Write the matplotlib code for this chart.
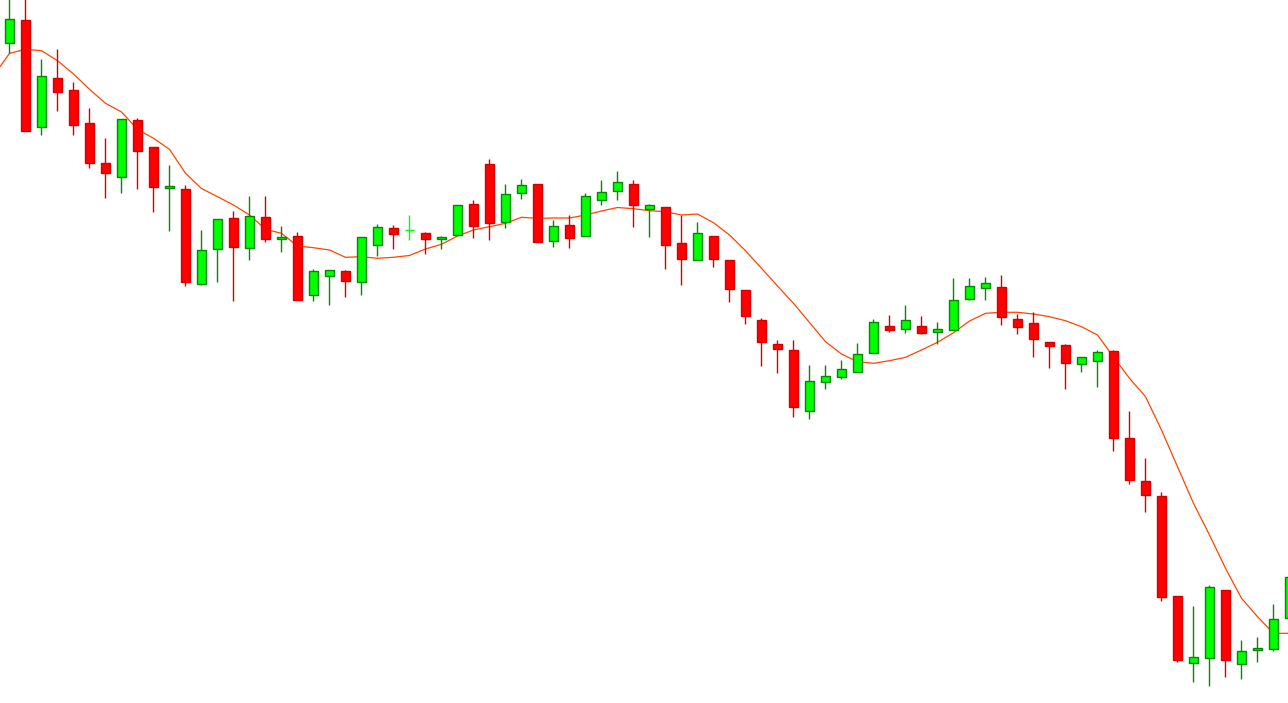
import numpy as np
import matplotlib
matplotlib.use("Agg")
import matplotlib.pyplot as plt
from matplotlib.patches import Rectangle

# OHLC (price units)
opens = [1.09567, 1.09797, 1.08727, 1.09217, 1.09097, 1.08767, 1.08367, 1.08227, 1.08797, 1.08527,
         1.08123, 1.08107, 1.07163, 1.07507, 1.07817, 1.07517, 1.07827, 1.07607, 1.07637, 1.07053,
         1.07243, 1.07287, 1.07183, 1.07553, 1.07717, 1.07697, 1.07667, 1.07613, 1.07647, 1.07957,
         1.08357, 1.07777, 1.08067, 1.08157, 1.07587, 1.07747, 1.07637, 1.07997, 1.08087, 1.08157,
         1.07907, 1.07927, 1.07567, 1.07400, 1.07637, 1.07397, 1.07097, 1.06797, 1.06557, 1.06497,
         1.05887, 1.06177, 1.06227, 1.06277, 1.06467, 1.06737, 1.06707, 1.06737, 1.06677, 1.06697,
         1.07007, 1.07117, 1.07127, 1.06807, 1.06767, 1.06577, 1.06547, 1.06357, 1.06387, 1.06487,
         1.05617, 1.05187, 1.05037, 1.04037, 1.03367, 1.03417, 1.04097, 1.03357, 1.03497, 1.03507,
         1.03817]
highs = [1.10050, 1.10100, 1.09410, 1.09510, 1.09180, 1.08920, 1.08620, 1.08807, 1.08820, 1.08530,
         1.08350, 1.08150, 1.07700, 1.07807, 1.07890, 1.08040, 1.08040, 1.07740, 1.07680, 1.07310,
         1.07300, 1.07300, 1.07627, 1.07760, 1.07750, 1.07850, 1.07680, 1.07640, 1.07947, 1.08000,
         1.08410, 1.08160, 1.08210, 1.08157, 1.07800, 1.07850, 1.08070, 1.08200, 1.08290, 1.08200,
         1.07960, 1.07927, 1.07847, 1.07780, 1.07637, 1.07397, 1.07097, 1.06820, 1.06600, 1.06600,
         1.06350, 1.06350, 1.06400, 1.06570, 1.06807, 1.06850, 1.06947, 1.06840, 1.06777, 1.07220,
         1.07217, 1.07230, 1.07250, 1.06857, 1.06877, 1.06577, 1.06557, 1.06427, 1.06497, 1.06497,
         1.05890, 1.05420, 1.05077, 1.04037, 1.03940, 1.04150, 1.04097, 1.03600, 1.03630, 1.03957,
         1.04230]
lows = [1.09473, 1.08690, 1.08653, 1.08893, 1.08653, 1.08323, 1.08023, 1.08073, 1.08113, 1.07883,
        1.07693, 1.07143, 1.07150, 1.07183, 1.06993, 1.07403, 1.07583, 1.07483, 1.07003, 1.06993,
        1.06953, 1.07033, 1.07053, 1.07443, 1.07513, 1.07603, 1.07463, 1.07513, 1.07647, 1.07623,
        1.07603, 1.07723, 1.08013, 1.07577, 1.07533, 1.07523, 1.07637, 1.07953, 1.08005, 1.07733,
        1.07633, 1.07307, 1.07153, 1.07400, 1.07333, 1.06983, 1.06763, 1.06343, 1.06273, 1.05833,
        1.05807, 1.06113, 1.06213, 1.06277, 1.06467, 1.06677, 1.06667, 1.06657, 1.06557, 1.06697,
        1.06997, 1.06997, 1.06753, 1.06663, 1.06433, 1.06323, 1.06113, 1.06283, 1.06133, 1.05493,
        1.05163, 1.04883, 1.03993, 1.03383, 1.03183, 1.03143, 1.03233, 1.03213, 1.03383, 1.03487,
        1.03800]
closes = [1.09807, 1.08693, 1.09237, 1.09083, 1.08753, 1.08373, 1.08273, 1.08807, 1.08493, 1.08133,
          1.08140, 1.07183, 1.07497, 1.07807, 1.07527, 1.07837, 1.07613, 1.07627, 1.07003, 1.07287,
          1.07297, 1.07193, 1.07627, 1.07727, 1.07663, 1.07697, 1.07607, 1.07627, 1.07947, 1.07743,
          1.07773, 1.08057, 1.08147, 1.07577, 1.07737, 1.07623, 1.08037, 1.08077, 1.08177, 1.07947,
          1.07947, 1.07553, 1.07413, 1.07667, 1.07407, 1.07107, 1.06837, 1.06577, 1.06507, 1.05927,
          1.06187, 1.06237, 1.06307, 1.06457, 1.06777, 1.06697, 1.06797, 1.06667, 1.06707, 1.06997,
          1.07137, 1.07167, 1.06833, 1.06727, 1.06607, 1.06537, 1.06367, 1.06427, 1.06477, 1.05623,
          1.05197, 1.05047, 1.04027, 1.03397, 1.03427, 1.04127, 1.03397, 1.03487, 1.03517, 1.03807,
          1.04227]

# moving average, first value belongs to the bar before the first visible candle
ma = [1.09240, 1.09467, 1.09507, 1.09493, 1.09393, 1.09260, 1.09107, 1.08967, 1.08880, 1.08707,
      1.08617, 1.08507, 1.08267, 1.08115, 1.08033, 1.07950, 1.07850, 1.07707, 1.07667, 1.07540,
      1.07523, 1.07500, 1.07427, 1.07433, 1.07417, 1.07427, 1.07445, 1.07510, 1.07557, 1.07640,
      1.07700, 1.07733, 1.07767, 1.07827, 1.07817, 1.07820, 1.07820, 1.07850, 1.07890, 1.07925,
      1.07913, 1.07893, 1.07883, 1.07850, 1.07860, 1.07773, 1.07650, 1.07493, 1.07317, 1.07140,
      1.06967, 1.06775, 1.06583, 1.06460, 1.06383, 1.06367, 1.06393, 1.06427, 1.06500, 1.06577,
      1.06673, 1.06790, 1.06867, 1.06877, 1.06877, 1.06860, 1.06833, 1.06793, 1.06733, 1.06650,
      1.06430, 1.06217, 1.06033, 1.05700, 1.05333, 1.04967, 1.04650, 1.04317, 1.04017, 1.03833,
      1.03667, 1.03667]

UP_FACE, UP_EDGE = "#00ff00", "#008a00"
DN_FACE, DN_EDGE = "#ff0000", "#d40000"
MA_COLOR = "#ff4500"

fig = plt.figure(figsize=(12.88, 7.03), dpi=100)
ax = fig.add_axes([0, 0, 1, 1])
ax.axis("off")

x = np.arange(len(opens))
x_ma = np.arange(-1, len(ma) - 1)

ax.plot(x_ma, ma, color=MA_COLOR, lw=0.9, zorder=1)

body_w = 0.58
for i in x:
    o, h, l, c = opens[i], highs[i], lows[i], closes[i]
    if c == o:
        # doji with no body: plain cross
        ax.vlines(i, l, h, color=UP_FACE, lw=1.0, zorder=2)
        ax.hlines(o, i - body_w / 2, i + body_w / 2, color=UP_FACE, lw=1.0, zorder=3)
        continue
    up = c > o
    face = UP_FACE if up else DN_FACE
    edge = UP_EDGE if up else DN_EDGE
    ax.vlines(i, l, h, color=edge, lw=1.0, zorder=2)
    ax.add_patch(Rectangle((i - body_w / 2, min(o, c)), body_w, abs(c - o),
                           facecolor=face, edgecolor=edge, lw=1.0, zorder=3))

ax.set_xlim(-9.5 / 16, (1288 - 9.5) / 16)
ax.set_ylim(1.1 - 0.0703, 1.1)

fig.savefig("out.png", dpi=100, facecolor="white")
